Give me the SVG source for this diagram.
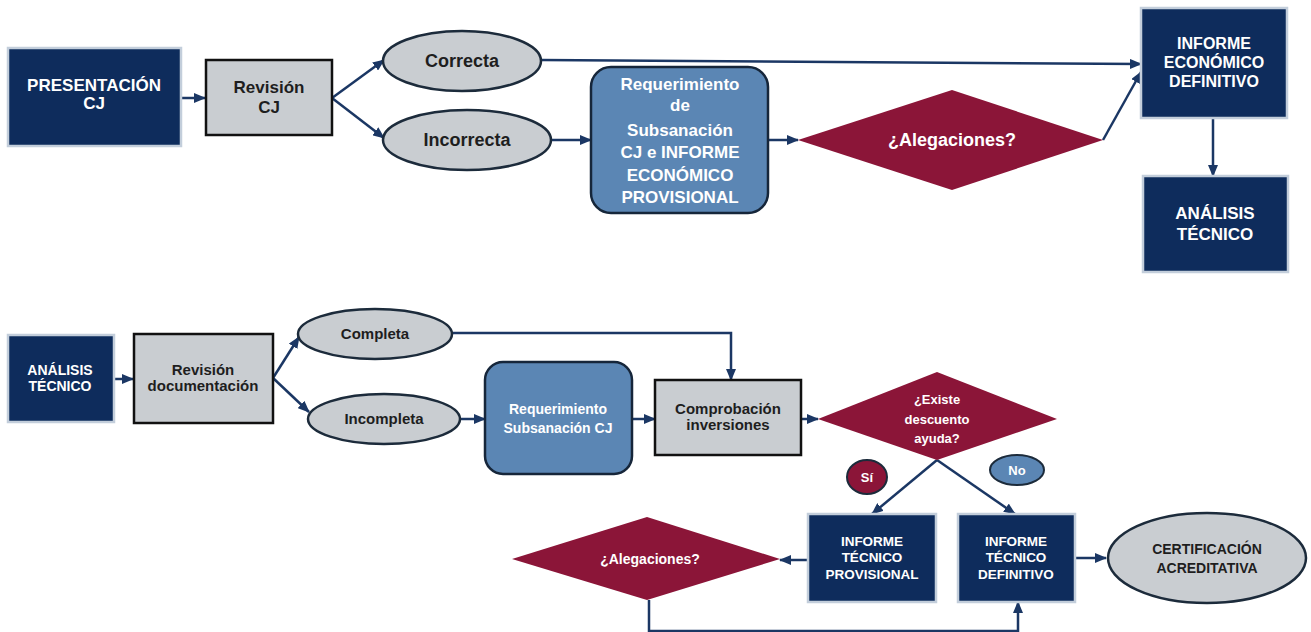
<svg xmlns="http://www.w3.org/2000/svg" width="1311" height="632" viewBox="0 0 1311 632">
<style>
.navy{fill:#0e2c5c;stroke:#c3cedb;stroke-width:2.5}
.gray{fill:#c9cdd1;stroke:#111;stroke-width:2.5}
.steel{fill:#5b86b4;stroke:#16263a;stroke-width:2.5}
.ell{fill:#c9cdd1;stroke:#1c2b3b;stroke-width:2.5}
.dia{fill:#8b1538}
.wt{fill:#fff;font-family:"Liberation Sans",Arial,sans-serif;font-weight:bold;text-anchor:middle}
.dt{fill:#1e1e1e;font-family:"Liberation Sans",Arial,sans-serif;font-weight:bold;text-anchor:middle}
.t18{font-size:18px}
.t17{font-size:17px}
.t16{font-size:16px}
.t15{font-size:15px}
.t14{font-size:14px}
.t13{font-size:13.5px}
.t12{font-size:13px}
.conn{fill:none;stroke:#1b3764;stroke-width:2.5}
</style>
<defs>
<marker id="ah" markerUnits="userSpaceOnUse" markerWidth="12" markerHeight="10" refX="11" refY="5" orient="auto">
<path d="M0,0 L12,5 L0,10 Z" fill="#1b3764"/>
</marker>
</defs>
<rect width="1311" height="632" fill="#fff"/>

<g id="connectors">
<line class="conn" x1="182" y1="98" x2="205" y2="98" marker-end="url(#ah)"/>
<line class="conn" x1="332" y1="98" x2="384" y2="60" marker-end="url(#ah)"/>
<line class="conn" x1="332" y1="98" x2="384" y2="138" marker-end="url(#ah)"/>
<line class="conn" x1="541" y1="60" x2="1141" y2="64" marker-end="url(#ah)"/>
<line class="conn" x1="552" y1="140" x2="591" y2="140" marker-end="url(#ah)"/>
<line class="conn" x1="768" y1="140" x2="798" y2="140" marker-end="url(#ah)"/>
<line class="conn" x1="1103" y1="140" x2="1141" y2="72" marker-end="url(#ah)"/>
<line class="conn" x1="1213" y1="118" x2="1213" y2="176" marker-end="url(#ah)"/>

<line class="conn" x1="115" y1="379" x2="133" y2="379" marker-end="url(#ah)"/>
<line class="conn" x1="273" y1="378" x2="299" y2="337" marker-end="url(#ah)"/>
<line class="conn" x1="273" y1="378" x2="309" y2="412" marker-end="url(#ah)"/>
<polyline class="conn" points="451,333 731,333 731,380" marker-end="url(#ah)"/>
<line class="conn" x1="460" y1="419" x2="485" y2="419" marker-end="url(#ah)"/>
<line class="conn" x1="632" y1="419" x2="655" y2="419" marker-end="url(#ah)"/>
<line class="conn" x1="801" y1="419" x2="818" y2="419" marker-end="url(#ah)"/>
<line class="conn" x1="937" y1="460" x2="872" y2="514" marker-end="url(#ah)"/>
<line class="conn" x1="937" y1="460" x2="1015" y2="514" marker-end="url(#ah)"/>
<line class="conn" x1="808" y1="560" x2="780" y2="560" marker-end="url(#ah)"/>
<polyline class="conn" points="649,600 649,631 1018,631 1018,602" marker-end="url(#ah)"/>
<line class="conn" x1="1075" y1="558" x2="1106" y2="558" marker-end="url(#ah)"/>
</g>

<g id="presentacion">
<rect class="navy" x="8" y="48" width="173" height="98"/>
<text class="wt t17" x="94" y="91">PRESENTACIÓN</text>
<text class="wt t17" x="94" y="109">CJ</text>
</g>
<g id="revision-cj">
<rect class="gray" x="206" y="60" width="126" height="75"/>
<text class="dt t17" x="269" y="93">Revisión</text>
<text class="dt t17" x="269" y="113">CJ</text>
</g>
<g id="correcta">
<ellipse class="ell" cx="462" cy="61" rx="79" ry="30"/>
<text class="dt t18" x="462" y="67">Correcta</text>
</g>
<g id="incorrecta">
<ellipse class="ell" cx="467" cy="140" rx="84" ry="30"/>
<text class="dt t18" x="467" y="146">Incorrecta</text>
</g>
<g id="requerimiento-top">
<rect class="steel" x="591" y="67" width="177" height="146" rx="20"/>
<text class="wt t17" x="680" y="90">Requerimiento</text>
<text class="wt t17" x="680" y="111">de</text>
<text class="wt t17" x="680" y="136">Subsanación</text>
<text class="wt t17" x="680" y="158">CJ e INFORME</text>
<text class="wt t17" x="680" y="181">ECONÓMICO</text>
<text class="wt t17" x="680" y="203">PROVISIONAL</text>
</g>
<g id="alegaciones-top">
<polygon class="dia" points="798,140 952,90 1103,140 952,190"/>
<text class="wt t18" x="952" y="146">¿Alegaciones?</text>
</g>
<g id="informe-economico">
<rect class="navy" x="1141" y="8" width="146" height="110"/>
<text class="wt t16" x="1214" y="49">INFORME</text>
<text class="wt t16" x="1214" y="68">ECONÓMICO</text>
<text class="wt t16" x="1214" y="87">DEFINITIVO</text>
</g>
<g id="analisis-top">
<rect class="navy" x="1143" y="176" width="145" height="96"/>
<text class="wt t17" x="1215" y="219">ANÁLISIS</text>
<text class="wt t17" x="1215" y="240">TÉCNICO</text>
</g>

<g id="analisis-bottom">
<rect class="navy" x="8" y="335" width="106" height="87"/>
<text class="wt t14" x="60" y="375">ANÁLISIS</text>
<text class="wt t14" x="60" y="391">TÉCNICO</text>
</g>
<g id="revision-doc">
<rect class="gray" x="134" y="334" width="139" height="89"/>
<text class="dt t15" x="203" y="375">Revisión</text>
<text class="dt t15" x="203" y="391">documentación</text>
</g>
<g id="completa">
<ellipse class="ell" cx="375" cy="334" rx="77" ry="25"/>
<text class="dt t15" x="375" y="339">Completa</text>
</g>
<g id="incompleta">
<ellipse class="ell" cx="384" cy="419" rx="76" ry="25"/>
<text class="dt t15" x="384" y="424">Incompleta</text>
</g>
<g id="requerimiento-bottom">
<rect class="steel" x="485" y="362" width="147" height="112" rx="18"/>
<text class="wt t14" x="558" y="414">Requerimiento</text>
<text class="wt t14" x="558" y="433">Subsanación CJ</text>
</g>
<g id="comprobacion">
<rect class="gray" x="655" y="380" width="146" height="75"/>
<text class="dt t15" x="728" y="414">Comprobación</text>
<text class="dt t15" x="728" y="430">inversiones</text>
</g>
<g id="existe-descuento">
<polygon class="dia" points="818,419 937,372 1057,419 937,460"/>
<text class="wt t12" x="937" y="404">¿Existe</text>
<text class="wt t12" x="937" y="424">descuento</text>
<text class="wt t12" x="937" y="443">ayuda?</text>
</g>
<g id="si">
<ellipse cx="867" cy="477" rx="20" ry="17" fill="#8b1538" stroke="#1c2b3b" stroke-width="2"/>
<text class="wt t12" x="867" y="482">Sí</text>
</g>
<g id="no">
<ellipse cx="1017" cy="470" rx="27" ry="15" fill="#5b86b4" stroke="#1c2b3b" stroke-width="2"/>
<text class="wt t12" x="1017" y="475">No</text>
</g>
<g id="informe-provisional">
<rect class="navy" x="808" y="514" width="128" height="88"/>
<text class="wt t13" x="872" y="546">INFORME</text>
<text class="wt t13" x="872" y="562">TÉCNICO</text>
<text class="wt t13" x="872" y="579">PROVISIONAL</text>
</g>
<g id="informe-definitivo">
<rect class="navy" x="958" y="514" width="117" height="88"/>
<text class="wt t13" x="1016" y="546">INFORME</text>
<text class="wt t13" x="1016" y="562">TÉCNICO</text>
<text class="wt t13" x="1016" y="579">DEFINITIVO</text>
</g>
<g id="alegaciones-bottom">
<polygon class="dia" points="512,559 647,517 780,559 647,600"/>
<text class="wt t14" x="650" y="564">¿Alegaciones?</text>
</g>
<g id="certificacion">
<ellipse class="ell" cx="1207" cy="558" rx="99" ry="45"/>
<text class="dt t14" x="1207" y="554">CERTIFICACIÓN</text>
<text class="dt t14" x="1207" y="573">ACREDITATIVA</text>
</g>
</svg>
